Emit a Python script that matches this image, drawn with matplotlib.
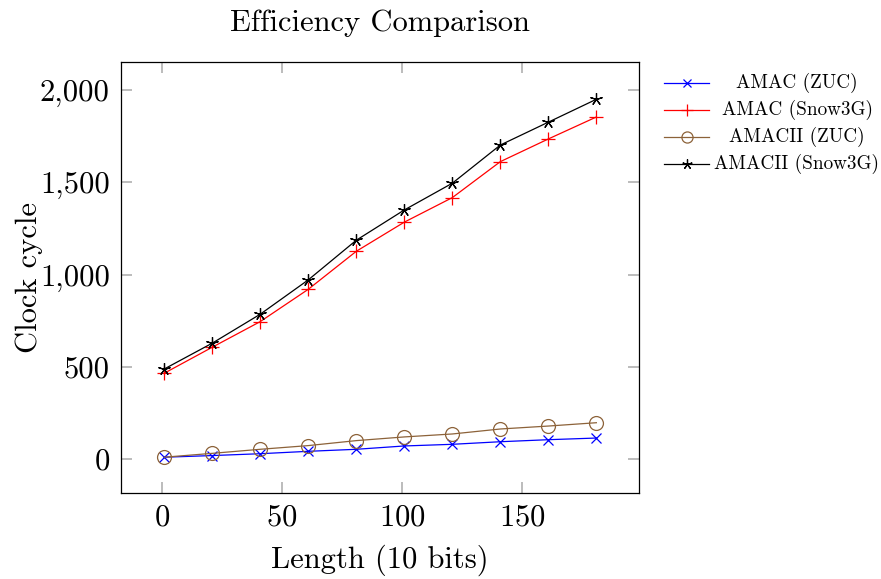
import numpy as np
import matplotlib
matplotlib.use("Agg")
import matplotlib.pyplot as plt
from matplotlib.ticker import FuncFormatter
from matplotlib.lines import Line2D

plt.rcParams['font.family'] = ['cmr10', 'DejaVu Serif']
plt.rcParams['axes.formatter.use_mathtext'] = True

# Datos
lengths = [1, 21, 41, 61, 81, 101, 121, 141, 161, 181]
amac_zuc = [11, 20, 30, 43, 54, 72, 81, 95, 106, 115]
amac_snow3g = [466, 607, 746, 921, 1127, 1285, 1418, 1613, 1736, 1855]
amacii_zuc = [11, 32, 54, 74, 101, 121, 137, 164, 180, 198]
amacii_snow3g = [489, 629, 786, 972, 1187, 1351, 1496, 1703, 1827, 1951]

labels = ["AMAC (ZUC)", "AMAC (Snow3G)", "AMACII (ZUC)", "AMACII (Snow3G)"]
colors = ['#0000ff', '#ff0000', '#8c6239', '#000000']
markers = ['x', '+', 'o', (5, 2, 0)]
msizes = [7, 10, 10, 9]
series = [amac_zuc, amac_snow3g, amacii_zuc, amacii_snow3g]

fig = plt.figure(figsize=(8.81, 5.79), dpi=100)
ax = fig.add_axes([0.1373, 0.1485, 0.5880, 0.7444])

for vals, lab, c, m, ms in zip(series, labels, colors, markers, msizes):
    ax.plot(lengths, vals, color=c, marker=m, markersize=ms, linewidth=0.9,
            markerfacecolor='none', markeredgecolor=c, markeredgewidth=0.9,
            label=lab)

ax.set_xlim(-17, 198.75)
ax.set_ylim(-183, 2153)
ax.set_xticks([0, 50, 100, 150])
ax.set_yticks([0, 500, 1000, 1500, 2000])
ax.yaxis.set_major_formatter(FuncFormatter(lambda v, p: f'{v:,.0f}'))
ax.tick_params(direction='in', length=8, width=1.2, color='#b0b0b0',
               labelsize=22, top=True, right=True, pad=8)
for s in ax.spines.values():
    s.set_linewidth(0.9)

ax.set_title("Efficiency Comparison", fontsize=22, pad=22)
ax.set_xlabel("Length (10 bits)", fontsize=22, labelpad=9)
ax.set_ylabel("Clock cycle", fontsize=22, labelpad=-2)

# Leyenda sin marco, texto centrado
W, H = 881, 579
row_y = [82.7, 110, 137.3, 164]
for yy, lab, c, m, ms in zip(row_y, labels, colors, markers, msizes):
    fy = 1 - yy / H
    fig.add_artist(Line2D([664 / W, 709 / W], [fy, fy], color=c, linewidth=0.9,
                          transform=fig.transFigure))
    fig.add_artist(Line2D([687 / W], [fy], color=c, marker=m, markersize=ms * 0.8,
                          markerfacecolor='none', markeredgecolor=c,
                          markeredgewidth=0.9, transform=fig.transFigure))
    fig.text(797 / W, fy, lab, fontsize=13.8, ha='center', va='center')

fig.savefig('out.png', dpi=100)
